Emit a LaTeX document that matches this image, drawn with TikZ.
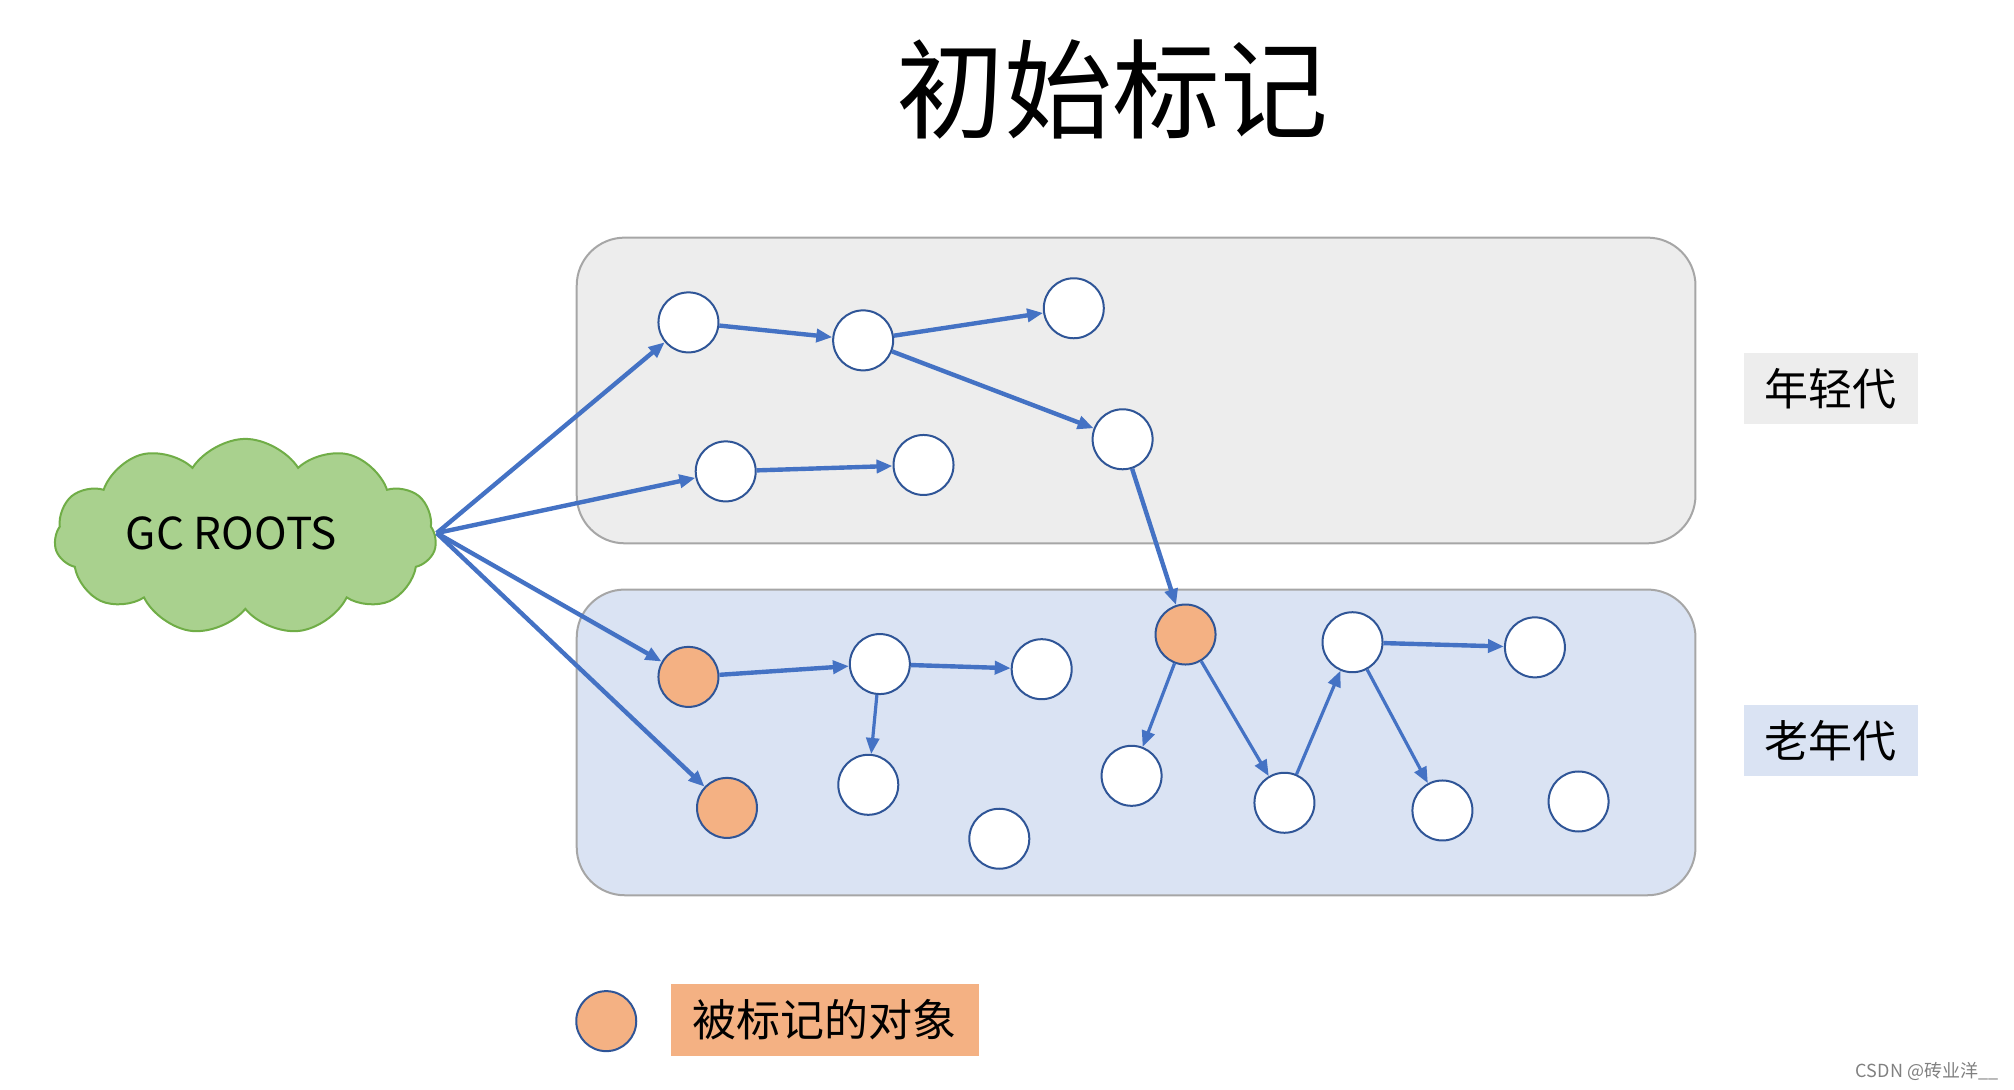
\documentclass[tikz,border=0pt]{standalone}
\usepackage{fontspec}
\setmainfont{Noto Sans CJK SC}
\usetikzlibrary{shapes.symbols,arrows.meta}
\definecolor{lineblue}{HTML}{4472C4}
\definecolor{ringblue}{HTML}{2F5597}
\definecolor{markorange}{HTML}{F4B183}
\definecolor{younggray}{HTML}{EDEDED}
\definecolor{oldblue}{HTML}{DAE3F3}
\definecolor{boxgray}{HTML}{A6A6A6}
\definecolor{cloudgreen}{HTML}{A9D18E}
\definecolor{cloudedge}{HTML}{70AD47}
\begin{document}
\begin{tikzpicture}[x=0.6422pt,y=-0.6422pt,
 obj/.style={circle,draw=ringblue,line width=1pt,fill=white,minimum size=30pt,inner sep=0pt},
 marked/.style={obj,fill=markorange},
 ref/.style={draw=lineblue,line width=2.2pt,-{Triangle[length=8pt,width=6.5pt]}},
 thinref/.style={ref,line width=1.6pt},
 region/.style={draw=boxgray,line width=1pt,rounded corners=24pt},
 genlabel/.style={font=\fontsize{22}{26}\selectfont,minimum width=86.7pt,minimum height=35.3pt,inner sep=0pt}]
\useasboundingbox (0,0) rectangle (1568,848.6);

% title
\node (title) at (866,70) {\fontsize{54}{60}\selectfont 初始标记};

% regions
\draw[region,fill=younggray] (449,185) rectangle (1320,423);
\draw[region,fill=oldblue] (449,459) rectangle (1320,697);
\node[genlabel,fill=younggray] (young) at (1425.5,302.5) {年轻代};
\node[genlabel,fill=oldblue] (old) at (1425.5,576.5) {老年代};

% GC roots cloud
\node[cloud,cloud puffs=11,cloud puff arc=115,aspect=2,draw=cloudedge,fill=cloudgreen,line width=1pt,
      minimum width=191pt,minimum height=98pt,inner sep=0pt] (roots) at (191,418) {};
\node[font=\fontsize{22}{26}\selectfont] (rootstext) at (180,415) {GC ROOTS};
\coordinate (rt) at (340,415);

% young objects
\node[obj] (A) at (536,251) {};
\node[obj] (B) at (672,265) {};
\node[obj] (C) at (836,240) {};
\node[obj] (D) at (874,342) {};
\node[obj] (E) at (565,367) {};
\node[obj] (F) at (719,362) {};

% old objects
\node[marked] (G) at (536,527) {};
\node[obj] (H) at (685,517) {};
\node[obj] (I) at (811,521) {};
\node[obj] (J) at (676,611) {};
\node[marked] (K) at (566,629) {};
\node[obj] (L) at (778,653) {};
\node[marked] (M) at (923,494) {};
\node[obj] (N) at (881,604) {};
\node[obj] (O) at (1000,625) {};
\node[obj] (P) at (1053,500) {};
\node[obj] (Q) at (1195,504) {};
\node[obj] (R) at (1123,631) {};
\node[obj] (S) at (1229,624) {};

% references
\draw[ref] (rt) -- (A);
\draw[ref] (rt) -- (E);
\draw[ref] (rt) -- (G);
\draw[ref] (rt) -- (K);
\draw[ref] (A) -- (B);
\draw[ref] (B) -- (C);
\draw[ref] (B) -- (D);
\draw[ref] (E) -- (F);
\draw[ref] (D) -- (M);
\draw[ref] (G) -- (H);
\draw[ref] (H) -- (I);
\draw[thinref] (H) -- (J);
\draw[thinref] (M) -- (N);
\draw[thinref] (M) -- (O);
\draw[thinref] (O) -- (P);
\draw[ref] (P) -- (Q);
\draw[thinref] (P) -- (R);

% legend
\node[marked] (legendobj) at (472,795) {};
\node[fill=markorange,minimum width=154pt,minimum height=36pt,inner sep=0pt,
      font=\fontsize{22}{26}\selectfont] (legendtext) at (642,794) {被标记的对象};

% watermark
\node[anchor=east,text=gray,font=\fontsize{9}{11}\selectfont,inner sep=0pt] (wm) at (1556,834) {CSDN @砖业洋\_\_};
\end{tikzpicture}
\end{document}
